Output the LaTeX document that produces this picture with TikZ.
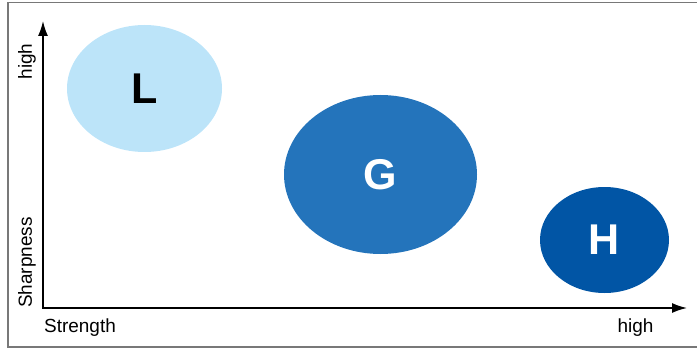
\documentclass[tikz,border=0pt]{standalone}
\usepackage{fontspec}
\setmainfont{Liberation Sans}
\usetikzlibrary{shapes.geometric,arrows.meta}

\definecolor{azulclaro}{RGB}{188,228,249}
\definecolor{azulmedio}{RGB}{36,116,187}
\definecolor{azuloscuro}{RGB}{1,85,165}

\begin{document}
\begin{tikzpicture}

	%DEFINICIONES
	\tikzstyle{every node}=[font=\fontsize{10.8}{13}\selectfont]
	\tikzstyle{zona} = [ellipse, inner sep=0pt, font=\fontsize{24.5}{29}\selectfont\bfseries]
	\tikzstyle{ejes} = [{Latex[length=3mm,width=2mm]}-{Latex[length=3mm,width=2mm]}, line width=0.03cm]
	\tikzstyle{marco} = [draw={rgb,255:red,120; green,120; blue,120}, line width=0.03cm]
	\tikzstyle{etiqueta} = [align=center, inner sep=0pt, outer sep=0pt]

	\useasboundingbox (0,0) rectangle (13.94,6.98);
	\draw[marco] (0.16,0.04) rectangle (14.05,6.93);

	%EJES
	\coordinate (origen) at (0.86,0.82);
	\coordinate (ymax) at (0.86,6.56);
	\coordinate (xmax) at (13.74,0.82);
	\draw [ejes] (ymax) -- (origen) -- (xmax);

	%ETIQUETAS
	\draw(0.54,5.75) node[etiqueta, rotate=90](altoY){high};
	\draw(0.54,1.73) node[etiqueta, rotate=90](nitidez){Sharpness};
	\draw(1.6,0.43) node[etiqueta](fuerza){Strength};
	\draw(12.71,0.43) node[etiqueta](altoX){high};

	%ELIPSES
	\draw(2.89,5.21) node[zona, fill=azulclaro, minimum width=3.1cm, minimum height=2.54cm](L){L};
	\draw(7.61,3.49) node[zona, fill=azulmedio, text=white, minimum width=3.86cm, minimum height=3.18cm](G){G};
	\draw(12.09,2.18) node[zona, fill=azuloscuro, text=white, minimum width=2.58cm, minimum height=2.12cm](H){H};
\end{tikzpicture}
\end{document}
